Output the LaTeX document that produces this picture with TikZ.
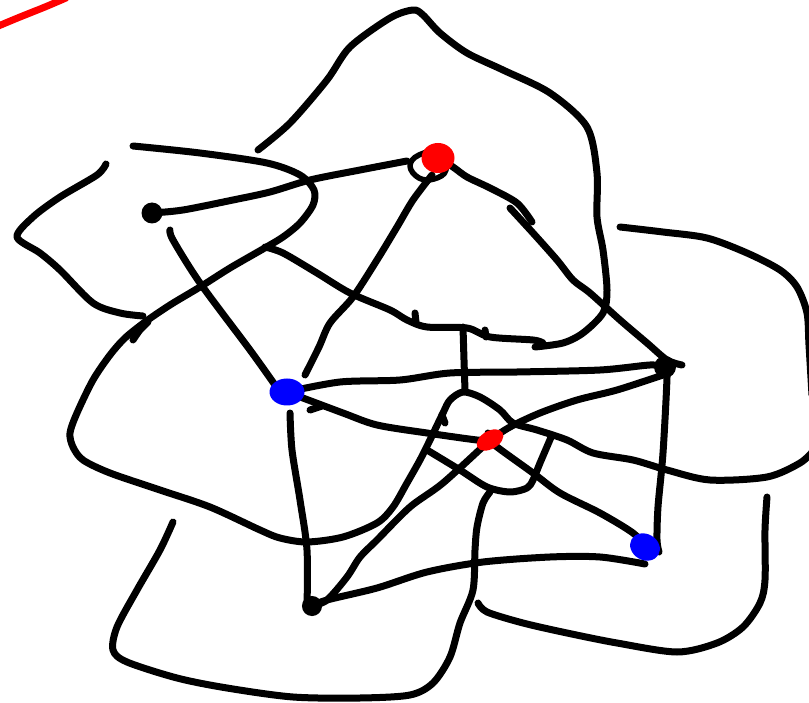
\documentclass[tikz,border=0pt]{standalone}
\usetikzlibrary{shapes.geometric}
\tikzset{
  ink/.style={line width=7pt, line cap=round, line join=round, black},
  redink/.style={ink, red},
  stroke/.style={smooth, tension=0.5},
  blackdot/.style={circle, fill=black, inner sep=0pt, minimum size=21pt},
  ringdot/.style={circle, draw=black, fill=black, line width=5pt, inner sep=0pt, minimum size=15pt},
  bluedot/.style={ellipse, fill=blue, inner sep=0pt, minimum width=35pt, minimum height=27pt},
  reddot/.style={ellipse, fill=red, inner sep=0pt, minimum width=33pt, minimum height=30pt},
  redsmall/.style={ellipse, fill=red, inner sep=0pt, minimum width=29pt, minimum height=18pt, rotate=30}
}
\begin{document}
\begin{tikzpicture}[x=1pt,y=-1pt]
\useasboundingbox (0,0) rectangle (809,703);
\fill[white] (0,0) rectangle (809,703);
% vertex positions
\coordinate (tl) at (152,213);
\coordinate (topred) at (438,158);
\coordinate (blueL) at (287,392);
\coordinate (rnode) at (665,367);
\coordinate (redC) at (490,440);
\coordinate (blueR) at (645,547);
\coordinate (bot) at (312,606);
% red mark at top-left
\draw[redink] plot[stroke] coordinates {(-4,27) (20,17) (45,7) (66,-2)};
% left < shape
\draw[ink] plot[stroke] coordinates {(106,164) (97,175) (60,197) (33,217) (17,237) (40,253) (60,270) (93,303) (120,313) (143,316)};
% long stroke: top-left curl, big left loop, to the right edge
\draw[ink] plot[stroke] coordinates {(133,146) (200,153) (267,163) (300,175) (314,190) (313,205) (300,223) (283,237) (263,249) (230,268) (200,287) (170,305) (145,322) (125,338) (110,355) (93,380) (77,413) (70,433) (73,447) (83,460) (110,473) (160,490) (210,507) (260,530) (280,538) (307,542) (343,537) (377,523) (393,507) (407,483) (420,460) (430,440) (443,413) (450,400) (463,392) (480,397) (500,410) (513,423) (537,430) (567,440) (593,453) (633,460) (667,470) (710,480) (767,477) (800,463) (814,450)};
\draw[ink] plot[stroke] coordinates {(133,340) (140,330) (148,322)};
% right loop
\draw[ink] plot[stroke] coordinates {(620,227) (663,232) (707,238) (747,253) (780,270) (797,287) (807,313) (809,345) (812,395)};
% top loop
\draw[ink] plot[stroke] coordinates {(258,150) (290,123) (327,80) (350,47) (390,18) (413,10) (423,15) (440,33) (467,53) (503,70) (550,93) (587,127) (597,173) (597,217) (603,250) (607,290) (603,313) (583,333) (563,343) (535,347)};
% lower curve of top region
\draw[ink] plot[stroke] coordinates {(265,247) (283,253) (317,273) (350,293) (390,310) (407,320) (427,327) (467,328) (490,337) (533,340) (543,343)};
\draw[ink] (415,313) -- (416,322);
\draw[ink] (485,330) -- (486,337);
% vertical under top region
\draw[ink] plot[stroke] coordinates {(463,327) (464,360) (465,390)};
% black loop around top red node
\draw[ink, line width=5.5pt] plot[smooth cycle, tension=0.7] coordinates {(440,152) (419,155) (410,166) (419,178) (434,179) (446,170)};
% edges
\draw[ink] plot[stroke] coordinates {(tl) (183,210) (233,200) (270,192) (310,180) (360,170) (407,161)};
\draw[ink] plot[stroke] coordinates {(432,175) (413,200) (397,227) (377,260) (353,297) (330,323) (319,347) (305,375)};
\draw[ink] plot[stroke] coordinates {(topred) (453,167) (467,177) (490,188) (517,203) (532,222)};
\draw[ink] plot[stroke] coordinates {(510,208) (533,233) (557,260) (573,280) (590,293) (620,320) (647,343) (667,360) (682,365)};
\draw[ink] plot[stroke] coordinates {(blueL) (340,382) (400,380) (450,373) (517,372) (600,370) (650,365) (rnode)};
\draw[ink] plot[stroke] coordinates {(170,230) (173,240) (200,283) (250,350) (275,385)};
\draw[ink] plot[stroke] coordinates {(blueL) (343,413) (377,425) (427,433) (477,440) (redC)};
\draw[ink] (310,410) -- (322,406);
\draw[ink] plot[stroke] coordinates {(redC) (510,427) (540,413) (577,400) (617,390) (663,375)};
\draw[ink] plot[stroke] coordinates {(redC) (497,447) (533,473) (560,493) (600,513) (633,533) (blueR)};
\draw[ink] plot[stroke] coordinates {(rnode) (667,377) (663,453) (658,507) (657,540) (659,552)};
\draw[ink] plot[stroke] coordinates {(redC) (443,483) (410,507) (377,540) (360,557) (347,577) (327,600) (bot)};
\draw[ink] plot[stroke] coordinates {(290,413) (292,450) (300,500) (307,550) (307,607)};
\draw[ink] plot[stroke] coordinates {(bot) (327,600) (377,588) (427,572) (483,562) (550,557) (600,557) (645,564)};
% bottom loop and cup
\draw[ink] plot[stroke] coordinates {(173,522) (160,550) (137,590) (117,627) (113,650) (127,662) (177,678) (227,688) (293,697) (360,698) (410,695) (433,683) (450,657) (460,623) (473,590) (475,550) (477,527) (483,503) (490,492)};
\draw[ink] plot[stroke] coordinates {(427,450) (460,470) (487,487) (510,492) (527,488) (533,480) (540,463) (552,435)};
\draw[ink] (442,415) -- (445,423);
\draw[ink] (488,433) -- (489,440);
% bottom-right U
\draw[ink] plot[stroke] coordinates {(478,603) (487,612) (523,623) (567,633) (617,643) (677,652) (717,643) (743,627) (760,603) (765,580) (765,530) (767,497)};
% vertex marks
\node[blackdot] (n1) at (tl) {};
\node[blackdot, minimum size=22pt] (n2) at (rnode) {};
\node[ringdot] (n3) at (bot) {};
\node[bluedot] (n4) at (blueL) {};
\node[bluedot, minimum width=31pt, minimum height=26pt, rotate=-30] (n5) at (blueR) {};
\node[reddot] (n6) at (topred) {};
\node[redsmall] (n7) at (redC) {};
\end{tikzpicture}
\end{document}
